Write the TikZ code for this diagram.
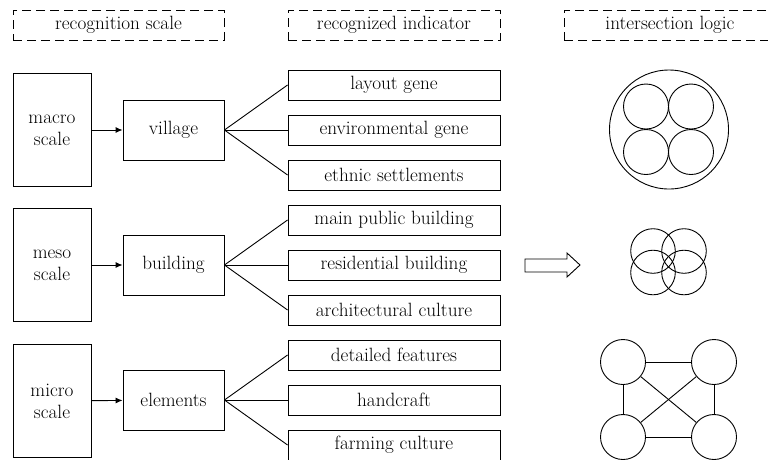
\documentclass[tikz,border=0pt]{standalone}
\usetikzlibrary{calc}
\usetikzlibrary{arrows.meta}

\tikzset{
  headbox/.style={draw, dash pattern=on 9pt off 5pt, minimum width=212pt, minimum height=30pt, inner sep=0pt},
  scalebox/.style={draw, align=center, minimum width=78pt, minimum height=113pt, inner sep=0pt},
  levelbox/.style={draw, minimum width=101pt, minimum height=60pt, inner sep=0pt},
  indbox/.style={draw, minimum width=212pt, minimum height=30pt, inner sep=0pt},
  ring/.style={draw, circle, minimum size=45pt, inner sep=0pt}
}

\begin{document}
\begin{tikzpicture}[x=1pt, y=-1pt, line width=0.9pt, font=\fontsize{19.2}{22}\selectfont]

\clip (0,0) rectangle (768,459);

\node[headbox, minimum width=211pt] (h1) at (118.5,25) {recognition scale};
\node[headbox] (h2) at (394,25) {recognized indicator};
\node[headbox] (h3) at (670,25) {intersection logic};

\node[scalebox] (macro) at (52,130) {macro\\scale};
\node[scalebox] (meso) at (52,265) {meso\\scale};
\node[scalebox] (micro) at (52,401) {micro\\scale};

\node[levelbox] (village) at (173.5,130) {village};
\node[levelbox] (building) at (173.5,265) {building};
\node[levelbox] (elements) at (173.5,400) {elements};

\draw[-{Latex[length=7pt,width=6pt]}] (macro) -- (village);
\draw[-{Latex[length=7pt,width=6pt]}] (meso) -- (building);
\draw[-{Latex[length=7pt,width=6pt]}] (micro) -- (elements);

\node[indbox] (i1) at (394,85) {layout gene};
\node[indbox] (i2) at (394,130) {environmental gene};
\node[indbox] (i3) at (394,175) {ethnic settlements};
\node[indbox] (i4) at (394,220) {main public building};
\node[indbox] (i5) at (394,265) {residential building};
\node[indbox] (i6) at (394,310) {architectural culture};
\node[indbox] (i7) at (394,355) {detailed features};
\node[indbox] (i8) at (394,400) {handcraft};
\node[indbox] (i9) at (394,445) {farming culture};

\foreach \n in {i1,i2,i3} \draw (village.east) -- (\n.west);
\foreach \n in {i4,i5,i6} \draw (building.east) -- (\n.west);
\foreach \n in {i7,i8,i9} \draw (elements.east) -- (\n.west);

% hollow arrow
\draw (525,259)--(567,259)--(567,253)--(580,265)--(567,277)--(567,272)--(525,272)--cycle;

% nested circles
\draw (669,129.5) circle[radius=59.5pt];
\foreach \p in {(646,106.5),(691,106.5),(646,152),(691,152)}
  \draw \p circle[radius=22.5pt];

% overlapping circles
\foreach \p in {(653,251),(684,251),(653,272.5),(684,272.5)}
  \draw \p circle[radius=22.3pt];

% linked circles
\node[ring] (c1) at (623,362) {};
\node[ring] (c2) at (714,362) {};
\node[ring] (c3) at (623,437) {};
\node[ring] (c4) at (714,437) {};
\draw (c1)--(c2);
\draw (c3)--(c4);
\draw (c1)--(c3);
\draw (c2)--(c4);
\draw (c1)--(c4);
\draw (c2)--(c3);
\end{tikzpicture}
\end{document}
